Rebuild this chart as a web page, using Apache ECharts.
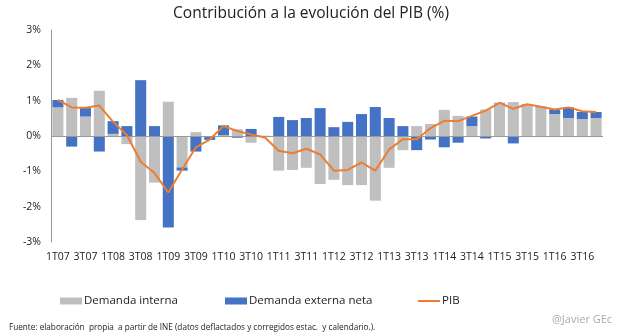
<!DOCTYPE html>
<html>
<head>
<meta charset="utf-8">
<script src="https://cdn.jsdelivr.net/npm/echarts@6/dist/echarts.min.js"></script>
<style>html,body{margin:0;padding:0;background:#fff}#c{width:622px;height:335px}</style>
</head>
<body>
<div id="c"></div>
<script>
var categories = [];
var years = ['07','08','09','10','11','12','13','14','15','16'];
years.forEach(function(y){ for (var q = 1; q <= 4; q++) categories.push(q + 'T' + y); });

var demandaInterna = [0.81,1.08,0.55,1.28,0.06,-0.23,-2.38,-1.32,0.97,-0.89,
  0.11,-0.03,0.02,0.19,-0.19,0.01,-0.98,-0.96,-0.90,-1.36,
  -1.24,-1.39,-1.39,-1.83,-0.90,-0.40,0.28,0.34,0.74,0.57,
  0.28,0.75,0.92,0.96,0.89,0.81,0.62,0.51,0.48,0.51];
var demandaExterna = [0.21,-0.30,0.24,-0.44,0.36,0.28,1.58,0.28,-2.59,-0.09,
  -0.44,-0.08,0.28,-0.05,0.20,-0.03,0.54,0.45,0.51,0.79,
  0.25,0.40,0.62,0.82,0.51,0.28,-0.40,-0.10,-0.32,-0.19,
  0.27,-0.07,0.02,-0.21,0.01,0.02,0.13,0.30,0.20,0.17];
var pib = [1.02,0.81,0.80,0.86,0.40,0.03,-0.73,-1.05,-1.60,-0.95,
  -0.32,-0.10,0.28,0.14,0.04,-0.04,-0.42,-0.49,-0.36,-0.52,
  -0.98,-0.96,-0.75,-0.98,-0.38,-0.09,-0.09,0.22,0.43,0.42,
  0.57,0.72,0.94,0.77,0.90,0.83,0.75,0.81,0.70,0.68];

var FONT = '"Open Sans", "DejaVu Sans", sans-serif';
var legendText = {fontSize: 11.5, color: '#222', fontFamily: FONT, padding: [0,0,0,-3]};
var chart = echarts.init(document.getElementById('c'), null, {renderer: 'canvas'});
chart.setOption({
  animation: false,
  backgroundColor: '#fff',
  textStyle: {fontFamily: FONT},
  title: [{
    text: 'Contribución a la evolución del PIB (%)',
    left: 'center', top: 1,
    textStyle: {fontSize: 15.5, fontWeight: 'normal', color: '#222', fontFamily: FONT}
  }, {
    text: 'Fuente: elaboración  propia  a partir de INE (datos deflactados y corregidos estac.  y calendario.).',
    left: 4, top: 319,
    textStyle: {fontSize: 8.2, fontWeight: 'normal', color: '#222', fontFamily: FONT}
  }, {
    text: '@Javier GEc',
    left: 547, top: 309,
    textStyle: {fontSize: 11, fontWeight: 'normal', color: '#aaa', fontFamily: FONT}
  }],
  legend: [{
    left: 55, top: 290,
    itemWidth: 22, itemHeight: 7,
    textStyle: legendText,
    data: [{name: 'Demanda interna', icon: 'rect'}]
  }, {
    left: 220, top: 290,
    itemWidth: 22, itemHeight: 7,
    textStyle: legendText,
    data: [{name: 'Demanda externa neta', icon: 'rect'}]
  }, {
    left: 413, top: 290,
    itemWidth: 22, itemHeight: 2,
    textStyle: legendText,
    data: [{name: 'PIB', icon: 'rect'}]
  }],
  grid: {left: 51, right: 19, top: 30, bottom: 93, containLabel: false},
  xAxis: {
    type: 'category',
    data: categories,
    axisLine: {show: false},
    axisTick: {show: false},
    axisLabel: {interval: 1, color: '#222', fontSize: 10.5, margin: 10, fontFamily: FONT}
  },
  yAxis: {
    type: 'value',
    min: -3, max: 3, interval: 1,
    axisLine: {show: true, lineStyle: {color: '#999', width: 1}},
    axisTick: {show: false},
    splitLine: {show: false},
    axisLabel: {formatter: '{value}%', color: '#222', fontSize: 10.5, margin: 10, fontFamily: FONT}
  },
  series: [{
    name: 'Demanda interna',
    type: 'bar',
    stack: 'total',
    data: demandaInterna,
    barCategoryGap: '20%',
    itemStyle: {color: '#BFBFBF'},
    markLine: {
      silent: true, symbol: 'none', label: {show: false},
      lineStyle: {color: '#999', width: 1, type: 'solid'},
      data: [{yAxis: 0}]
    }
  }, {
    name: 'Demanda externa neta',
    type: 'bar',
    stack: 'total',
    data: demandaExterna,
    itemStyle: {color: '#4472C4'}
  }, {
    name: 'PIB',
    type: 'line',
    data: pib,
    symbol: 'none',
    lineStyle: {color: '#ED7D31', width: 2},
    itemStyle: {color: '#ED7D31'},
    z: 5
  }]
});
</script>
</body>
</html>
